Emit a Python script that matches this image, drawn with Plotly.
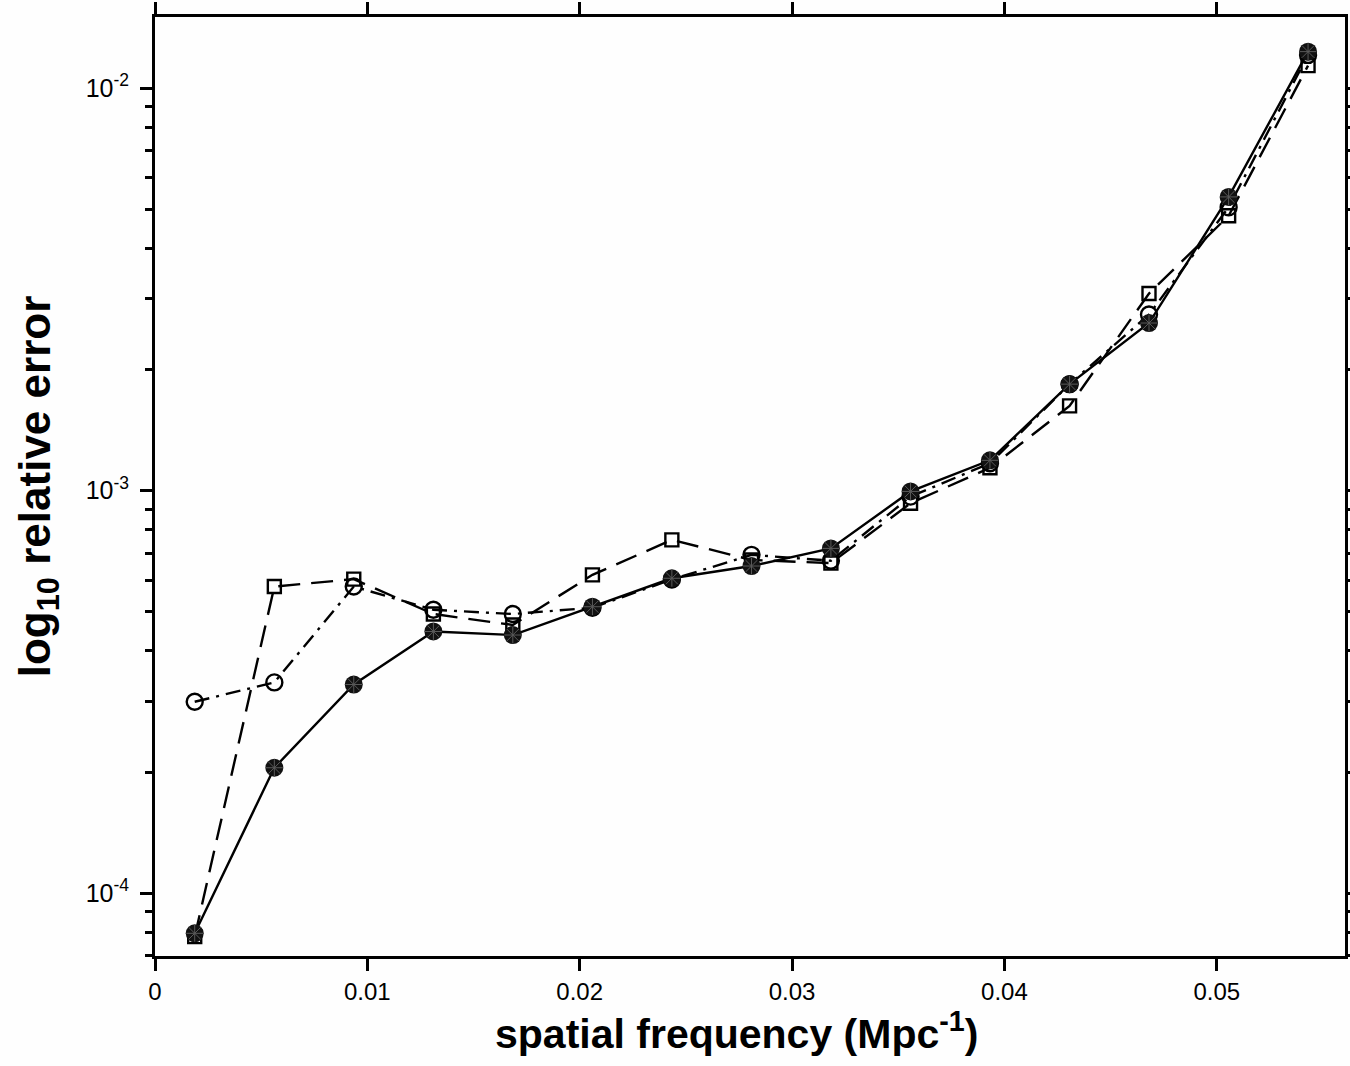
import plotly.graph_objects as go

# spatial frequency (Mpc^-1)
freq = [0.00187, 0.00562, 0.00936, 0.01311, 0.01685, 0.02060, 0.02434, 0.02809,
        0.03183, 0.03558, 0.03932, 0.04307, 0.04681, 0.05056, 0.05430]

# relative error, three series
err_solid = [7.95e-5, 2.05e-4, 3.30e-4, 4.47e-4, 4.38e-4, 5.15e-4, 6.06e-4, 6.50e-4,
             7.19e-4, 9.96e-4, 1.19e-3, 1.84e-3, 2.61e-3, 5.37e-3, 1.233e-2]
err_circle = [2.99e-4, 3.34e-4, 5.78e-4, 5.06e-4, 4.94e-4, 5.12e-4, 6.02e-4, 6.93e-4,
              6.70e-4, 9.67e-4, 1.17e-3, 1.84e-3, 2.74e-3, 5.06e-3, 1.21e-2]
err_square = [7.8e-5, 5.78e-4, 6.03e-4, 4.94e-4, 4.64e-4, 6.18e-4, 7.55e-4, 6.73e-4,
              6.61e-4, 9.31e-4, 1.14e-3, 1.625e-3, 3.09e-3, 4.82e-3, 1.138e-2]

y_tickvals = [1e-4, 1e-3, 1e-2]
y_ticktext = ["10<sup>-4</sup>", "10<sup>-3</sup>", "10<sup>-2</sup>"]
y_minor = [m * d for d in (1e-5, 1e-4, 1e-3) for m in range(2, 10)]
x_tickvals = [0, 0.01, 0.02, 0.03, 0.04, 0.05]
x_ticktext = ["0", "0.01", "0.02", "0.03", "0.04", "0.05"]
x_title = "<b>spatial frequency (Mpc<sup>-1</sup>)</b>"
y_title = "<b>log<sub>10</sub> relative error</b>"

fig = go.Figure()
fig.add_trace(go.Scatter(
    x=freq, y=err_square, mode="lines+markers",
    line=dict(color="black", width=2.4, dash="22px,11px"),
    marker=dict(symbol="square-open", size=13, color="black", line=dict(width=2.4, color="black")),
))
fig.add_trace(go.Scatter(
    x=freq, y=err_circle, mode="lines+markers",
    line=dict(color="black", width=2.4, dash="15px,7px,3px,7px"),
    marker=dict(symbol="circle-open", size=16, color="black", line=dict(width=2.4, color="black")),
))
fig.add_trace(go.Scatter(
    x=freq, y=err_solid, mode="lines+markers",
    line=dict(color="black", width=2.4),
    marker=dict(symbol="circle", size=18, color="#111111", line=dict(width=0)),
))
fig.add_trace(go.Scatter(
    x=freq, y=err_solid, mode="markers", hoverinfo="skip",
    marker=dict(symbol="asterisk-open", size=14, color="#5a5a5a", line=dict(width=1, color="#5a5a5a")),
))

font = "Liberation Sans, Arial, Helvetica, sans-serif"
fig.update_layout(
    width=1350, height=1066,
    margin=dict(l=155, r=5, t=17, b=110),
    paper_bgcolor="#fefefe", plot_bgcolor="#fefefe",
    showlegend=False,
    font=dict(family=font, color="black"),
)
fig.add_annotation(
    text=x_title, xref="paper", yref="paper", x=0.489, y=-0.080,
    xanchor="center", yanchor="middle", showarrow=False,
    font=dict(size=41, family=font, color="black"),
)
fig.update_xaxes(
    range=[0, 0.05604], tickvals=x_tickvals, ticktext=x_ticktext,
    ticks="outside", ticklen=12, tickwidth=3, tickcolor="black",
    showline=True, linewidth=3, linecolor="black", mirror="ticks",
    showgrid=False, zeroline=False, automargin=False,
    tickfont=dict(size=24, family=font),
)
fig.update_yaxes(
    type="log", range=[-4.156, -1.823],
    tickvals=y_tickvals, ticktext=y_ticktext,
    ticks="outside", ticklen=12, tickwidth=3, tickcolor="black",
    minor=dict(tickvals=y_minor, ticks="outside", ticklen=7, tickwidth=3, tickcolor="black"),
    showline=True, linewidth=3, linecolor="black", mirror="ticks",
    showgrid=False, zeroline=False, automargin=False,
    tickfont=dict(size=25, family=font), ticklabelstandoff=6,
    title=dict(text=y_title, font=dict(size=44, family=font), standoff=22),
)

fig.write_html("out.html", config={"displayModeBar": False},
               post_script="document.body.style.margin='0px';document.body.style.overflow='hidden';")
